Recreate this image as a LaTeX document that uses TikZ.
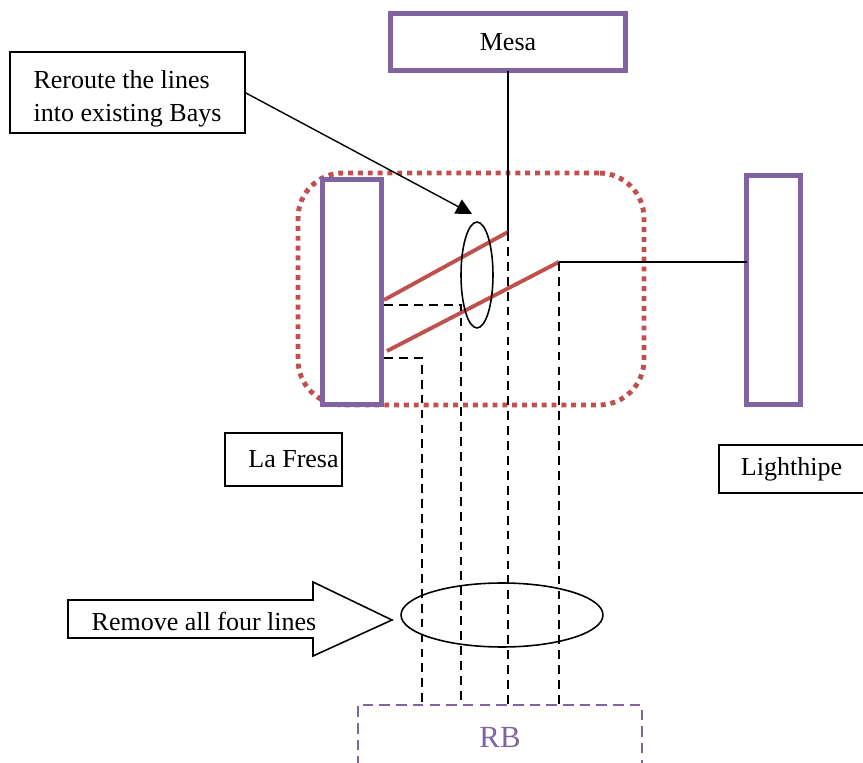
\documentclass[tikz,border=0pt]{standalone}
\usepackage{fontspec}
\setmainfont{Liberation Serif}
\usepackage{tikz}
\usetikzlibrary{positioning,shapes.geometric,arrows.meta}
\definecolor{boxpurple}{HTML}{8064A2}
\definecolor{linered}{HTML}{C0504D}

\begin{document}
\begin{tikzpicture}
  [x=0.02cm,y=-0.02cm,
   every node/.style={inner sep=0pt,outer sep=0pt,font=\fontsize{14.8}{19}\selectfont},
   bay/.style={draw=boxpurple,line width=2.8pt,fill=white},
   tbox/.style={draw=black,line width=0.8pt,fill=white},
   ring/.style={ellipse,draw=black,line width=0.9pt},
   link/.style={black,line width=1.3pt},
   red link/.style={linered,line width=2.2pt},
   old link/.style={black,line width=1.4pt,dash pattern=on 5pt off 3.5pt}]

  \useasboundingbox (0,0) rectangle (863,763);

  % substation outline
  \node[draw=linered,line width=2.8pt,dash pattern=on 2.8pt off 2.8pt,rounded corners=0.9cm,
        minimum width=6.92cm,minimum height=4.64cm] (group) at (471,289) {};

  \node[bay,minimum width=4.7cm,minimum height=1.15cm] (mesa) at (508,42) {Mesa};
  \node[bay,minimum width=1.18cm,minimum height=4.5cm] (fresa) at (352,292) {};
  \node[bay,minimum width=1.08cm,minimum height=4.58cm] (lhbar) at (773.5,290) {};
  \node[draw=boxpurple,line width=1.3pt,dash pattern=on 6pt off 3.5pt,text=boxpurple,
        font=\fontsize{17.5}{20}\selectfont,
        minimum width=5.68cm,minimum height=1.3cm] (rb) at (500,737.5) {RB};

  \node[tbox,minimum width=4.7cm,minimum height=1.62cm] (reroute) at (127.5,92.5) {};
  \node[align=left] (reroutetxt) at (127.5,99) {Reroute the lines\\into existing Bays};
  \node[tbox,minimum width=2.34cm,minimum height=1.06cm] (fresalbl) at (283.5,459.5)
    {\hspace*{0.4cm}La Fresa};
  \node[tbox,minimum width=2.9cm,minimum height=0.96cm] (lhlbl) at (791.5,469) {Lighthipe};

  \coordinate (f1) at (384,300);
  \coordinate (f2) at (387,351);
  \coordinate (f3) at (384,305);
  \coordinate (f4) at (384,358);
  \coordinate (j1) at (508,232);
  \coordinate (j2) at (559,262);
  \coordinate (r1) at (422,705);
  \coordinate (r2) at (461,705);
  \coordinate (r3) at (508,705);
  \coordinate (r4) at (559,705);
  \coordinate (tipa) at (472,214);

  % new lines
  \draw[link] (mesa.south) -- (j1);
  \draw[red link] (f1) -- (j1);
  \draw[red link] (f2) -- (j2);
  \draw[link] (j2) -- (j2 -| lhbar.west);

  % lines to remove
  \draw[old link] (f3) -| (r2);
  \draw[old link] (f4) -| (r1);
  \draw[old link] (j1) -- (r3);
  \draw[old link] (j2) -- (r4);

  \node[ring,minimum width=0.64cm,minimum height=2.12cm] (bayring) at (477,275) {};
  \node[ring,minimum width=4.04cm,minimum height=1.28cm] (rbring) at (502,615) {};

  \draw[black,line width=0.8pt,-{Triangle[length=9pt,width=9pt]}] (reroute.east) -- (tipa);

  \draw[black,line width=0.9pt,fill=white] (68,600) -- (313,600) -- (313,582) -- (392,620)
    -- (313,656) -- (313,638) -- (68,638) -- cycle;
  \node (remove) at (204,621) {Remove all four lines};
\end{tikzpicture}
\end{document}
